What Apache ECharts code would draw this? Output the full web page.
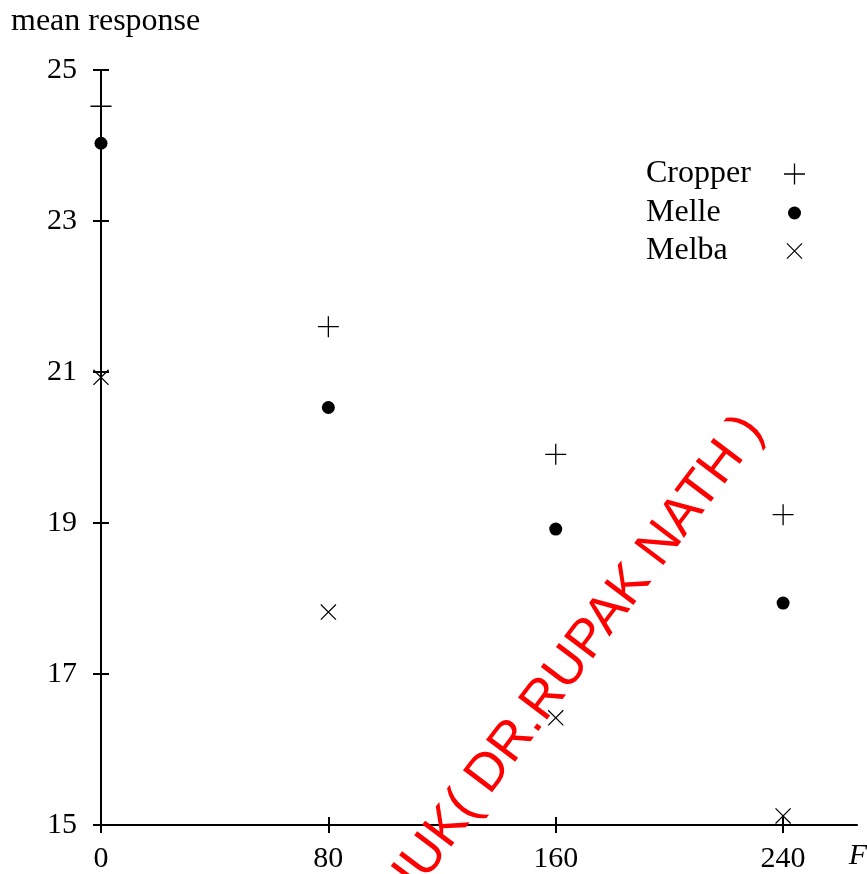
<!DOCTYPE html>
<html>
<head>
<meta charset="utf-8">
<script src="https://cdn.jsdelivr.net/npm/echarts@6/dist/echarts.min.js"></script>
<style>
	html, body { margin: 0; padding: 0; background: #fff; }
	#chart { width: 867px; height: 874px; }
</style>
</head>
<body>
<div id="chart"></div>
<script>
(function() {
	'use strict';

	// data
	var levels = [0, 80, 160, 240];
	var cropper = [24.52, 21.6, 19.91, 19.11];
	var melle = [24.03, 20.53, 18.92, 17.94];
	var melba = [20.93, 17.82, 16.42, 15.12];
	var seriesNames = ['Cropper', 'Melle', 'Melba'];
	var xTicks = [0, 80, 160, 240];
	var yTicks = [15, 17, 19, 21, 23, 25];

	var serif = '"Liberation Serif", "DejaVu Serif", serif';
	var plusPath = 'path://M0,9.85H21V11.15H0Z M9.85,0H11.15V21H9.85Z';
	var crossPath = 'path://M0,0.85L0.85,0L16,15.15L15.15,16Z M15.15,0L16,0.85L0.85,16L0,15.15Z';

	var symbols = [
		{ icon: plusPath, size: 21 },
		{ icon: 'circle', size: 13 },
		{ icon: crossPath, size: 16 }
	];
	var values = [cropper, melle, melba];

	function pairs(ys) {
		return levels.map(function (x, i) { return [x, ys[i]]; });
	}

	var seriesList = seriesNames.map(function (name, i) {
		return {
			name: name,
			type: 'scatter',
			symbol: symbols[i].icon,
			symbolSize: symbols[i].size,
			itemStyle: { color: '#000', opacity: 1 },
			emphasis: { disabled: true },
			data: pairs(values[i])
		};
	});

	// one legend per series so that every key symbol keeps its own size
	var legendTops = [158, 197, 235];
	var legends = seriesNames.map(function (name, i) {
		var w = symbols[i].size;
		return {
			data: [{ name: name, icon: symbols[i].icon }],
			left: 646,
			top: legendTops[i],
			padding: 0,
			align: 'right',
			itemWidth: w,
			itemHeight: w,
			selectedMode: false,
			formatter: '{t|{name}}',
			textStyle: {
				rich: {
					t: {
						width: 143.5 - w / 2,
						align: 'left',
						fontFamily: serif,
						fontSize: 32,
						lineHeight: 30,
						color: '#000'
					}
				}
			}
		};
	});

	var axisLine = { show: true, onZero: false, lineStyle: { color: '#000', width: 2 } };
	var tickStyle = { color: '#000', width: 2 };

	var chart = echarts.init(document.getElementById('chart'));

	chart.setOption({
		animation: false,
		grid: { left: 101, right: 10, top: 70, bottom: 48 },
		legend: legends,
		xAxis: [{
			type: 'value', min: 0, max: 266,
			axisLine: axisLine,
			splitLine: { show: false },
			axisTick: { show: true, length: 8, lineStyle: tickStyle, customValues: xTicks },
			axisLabel: {
				customValues: xTicks, margin: 19,
				fontFamily: serif, fontSize: 30, color: '#000'
			}
		}, {
			type: 'value', min: 0, max: 266, position: 'bottom',
			axisLine: { show: false },
			splitLine: { show: false },
			axisTick: { show: true, inside: true, length: 8, lineStyle: tickStyle, customValues: xTicks },
			axisLabel: { show: false }
		}],
		yAxis: [{
			type: 'value', min: 15, max: 25,
			axisLine: axisLine,
			splitLine: { show: false },
			axisTick: { show: true, length: 8, lineStyle: tickStyle, customValues: yTicks },
			axisLabel: {
				customValues: yTicks, margin: 24,
				fontFamily: serif, fontSize: 30, color: '#000'
			}
		}, {
			type: 'value', min: 15, max: 25, position: 'left',
			axisLine: { show: false },
			splitLine: { show: false },
			axisTick: { show: true, inside: true, length: 8, lineStyle: tickStyle, customValues: yTicks },
			axisLabel: { show: false }
		}],
		graphic: [{
			type: 'text', x: 11, y: 22,
			style: {
				text: 'mean response', font: '32px ' + serif, fill: '#000',
				verticalAlign: 'middle'
			}
		}, {
			type: 'text', x: 858, y: 856,
			style: {
				text: 'F', font: 'italic 30px ' + serif, fill: '#000',
				align: 'center', verticalAlign: 'middle'
			}
		}, {
			// red watermark lying across the plot
			type: 'text', x: 572, y: 662, z: 100,
			rotation: 53 * Math.PI / 180,
			style: {
				text: 'HUK( DR.RUPAK NATH )',
				font: '53px "Liberation Sans", Arial, sans-serif',
				fill: '#ff0000',
				align: 'center', verticalAlign: 'middle'
			}
		}],
		series: seriesList
	});
})();
</script>
</body>
</html>
